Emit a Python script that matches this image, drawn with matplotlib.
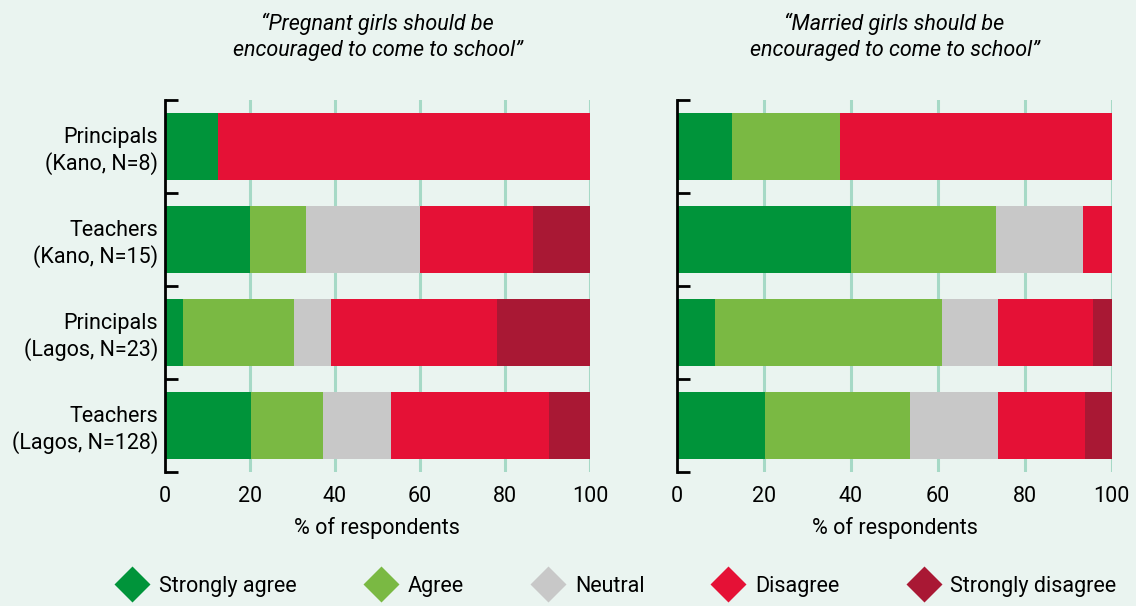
import matplotlib
matplotlib.use("Agg")
import matplotlib.pyplot as plt
from matplotlib.lines import Line2D
import numpy as np

plt.rcParams["font.family"] = ["Roboto", "DejaVu Sans"]

# -------------------------
# Data (% of respondents)
# -------------------------
groups = ["Principals\n(Kano, N=8)", "Teachers\n(Kano, N=15)",
          "Principals\n(Lagos, N=23)", "Teachers\n(Lagos, N=128)"]
categories = ["Strongly agree", "Agree", "Neutral", "Disagree", "Strongly disagree"]
colors = ["#00943a", "#7ab943", "#c8c8c8", "#e51136", "#a91834"]

# rows = groups, cols = categories
pregnant = [
    [12.5, 0.0, 0.0, 87.5, 0.0],
    [20.0, 13.3, 26.7, 26.7, 13.3],
    [4.3, 26.1, 8.7, 39.1, 21.8],
    [20.3, 16.9, 16.0, 37.2, 9.6],
]
married = [
    [12.5, 25.0, 0.0, 62.5, 0.0],
    [40.0, 33.3, 20.0, 6.7, 0.0],
    [8.7, 52.2, 13.0, 21.8, 4.3],
    [20.2, 33.4, 20.2, 20.1, 6.1],
]
titles = ["\u201cPregnant girls should be\nencouraged to come to school\u201d",
          "\u201cMarried girls should be\nencouraged to come to school\u201d"]

BG = "#eaf4f0"
GRID = "#a6d9c6"

fig = plt.figure(figsize=(11.36, 6.06), dpi=100, facecolor=BG)
ax1 = fig.add_axes([0.1452, 0.2211, 0.3741, 0.6139])
ax2 = fig.add_axes([0.5962, 0.2211, 0.3824, 0.6139])

y = np.arange(len(groups))

for ax, data, title, show_labels in [(ax1, pregnant, titles[0], True),
                                     (ax2, married, titles[1], False)]:
    ax.set_facecolor(BG)
    vals = np.array(data)
    left = np.zeros(len(groups))
    for j, cat in enumerate(categories):
        ax.barh(y, vals[:, j], left=left, height=0.73, color=colors[j],
                edgecolor="none", zorder=3)
        left += vals[:, j]

    ax.set_xlim(0, 100)
    ax.set_ylim(3.5, -0.5)
    ax.set_xticks([0, 20, 40, 60, 80, 100])
    ax.tick_params(axis="x", length=0, labelsize=15.5, pad=10)
    ax.set_xlabel("% of respondents", fontsize=15.5, labelpad=7)

    for xv in [20, 40, 60, 80, 100]:
        ax.axvline(xv, color=GRID, lw=2.2, zorder=1)

    # bracket ticks between rows
    ax.set_yticks(y)
    ax.set_yticks(np.arange(-0.5, len(groups)), minor=True)
    ax.tick_params(axis="y", which="major", length=0, labelsize=15.5, pad=5)
    ax.tick_params(axis="y", which="minor", direction="in", length=9,
                   width=2, color="black")
    if show_labels:
        ax.set_yticklabels(groups, ha="right", multialignment="right")
    else:
        ax.set_yticklabels([])

    for s in ["top", "right", "bottom"]:
        ax.spines[s].set_visible(False)
    ax.spines["left"].set_linewidth(2)
    ax.spines["left"].set_zorder(4)

    ax.set_title(title, fontsize=15.5, style="italic", pad=32,
                 linespacing=1.3)

# -------------------------
# Legend
# -------------------------
handles = [Line2D([], [], marker="D", linestyle="none", markersize=18,
                  markerfacecolor=c, markeredgecolor="none") for c in colors]
fig.legend(handles, categories, loc="lower center", ncol=5,
           bbox_to_anchor=(0.545, -0.017), frameon=False, fontsize=15.5,
           handlelength=1.0, handletextpad=0.75, columnspacing=3.4)

plt.savefig("out.png", dpi=100, facecolor=BG)
